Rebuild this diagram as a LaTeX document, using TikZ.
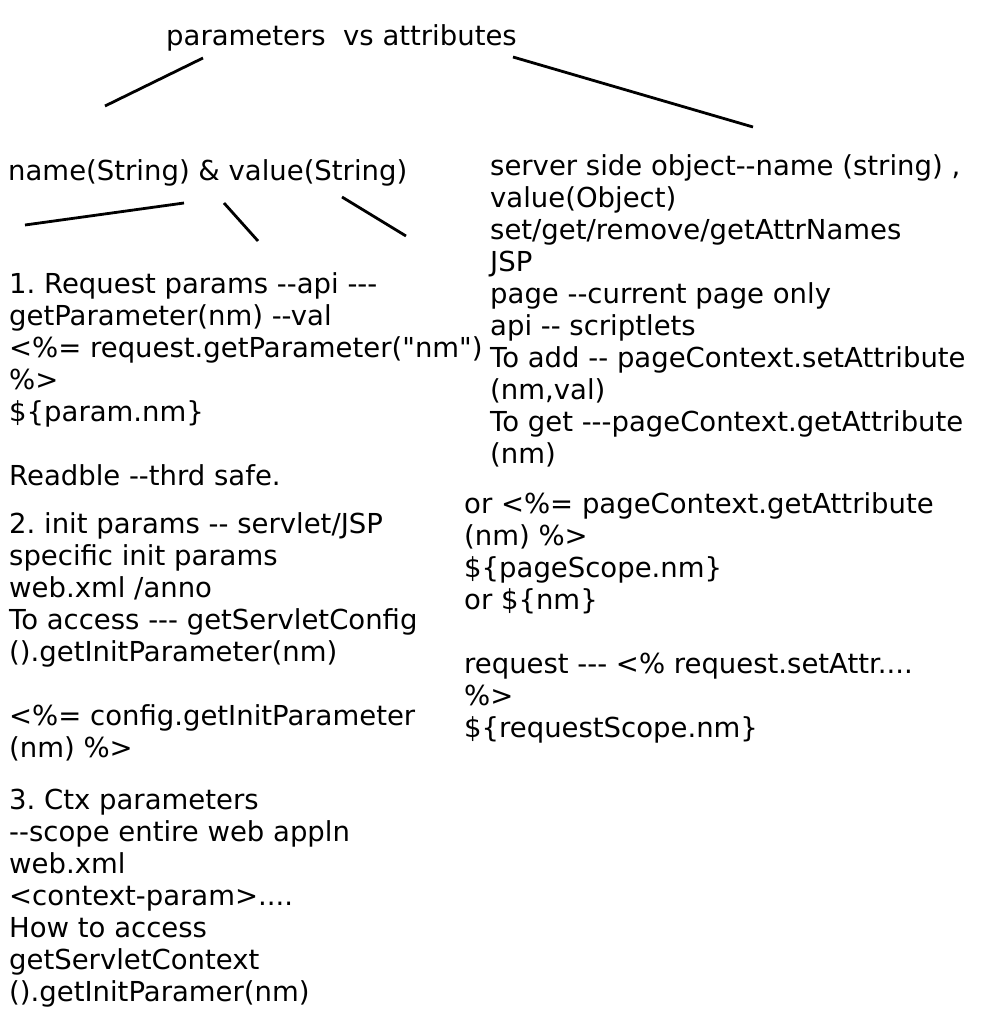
\documentclass[tikz,border=0pt]{standalone}
\usepackage{fontspec}
\setmainfont{DejaVu Sans}[Ligatures=TeXOff]
\usepackage{tikz}
\usetikzlibrary{positioning}
\frenchspacing
\tikzset{
    noteblock/.style={inner sep=0pt, anchor=base west, align=left, font=\fontsize{27.5}{32}\selectfont},
    link/.style={line width=2.8pt, black},
}

\begin{document}
\begin{tikzpicture}[x=1pt,y=-1pt]
\useasboundingbox (0,0) rectangle (993,1031);

% (multi-line notes sit on the baseline of their last line)
\node[noteblock] (title) at (166,45) {parameters\ \ vs attributes};
\node[noteblock] (namevalue) at (8,180) {name(String) \& value(String)};

\node[noteblock] (reqparams) at (9,485) {1. Request params --api ---\\
getParameter(nm) --val\\
<\%= request.getParameter("nm")\\
\%>\\
\$\{param.nm\}\\[32pt]
Readble --thrd safe.};
\node[noteblock] (initparams) at (9,757) {2. init params -- servlet/JSP\\
specific init params\\
web.xml /anno\\
To access --- getServletConfig\\
().getInitParameter(nm)\\[32pt]
<\%= config.getInitParameter\\
(nm) \%>};
\node[noteblock] (ctxparams) at (9,1001) {3. Ctx parameters\\
--scope entire web appln\\
web.xml\\
<context-param>....\\
How to access\\
getServletContext\\
().getInitParamer(nm)};

\node[noteblock] (attrpage) at (490,463) {server side object--name (string) ,\\
value(Object)\\
set/get/remove/getAttrNames\\
JSP\\
page --current page only\\
api -- scriptlets\\
To add -- pageContext.setAttribute\\
(nm,val)\\
To get ---pageContext.getAttribute\\
(nm)};
\node[noteblock] (attrreq) at (464,737) {or <\%= pageContext.getAttribute\\
(nm) \%>\\
\$\{pageScope.nm\}\\
or \$\{nm\}\\[32pt]
request --- <\% request.setAttr....\\
\%>\\
\$\{requestScope.nm\}};

% links between the notes
\coordinate (tleft) at (203,58);
\coordinate (tright) at (513,57);
\coordinate (paramtop) at (105,106);
\coordinate (attrtop) at (753,127);
\draw[link] (tleft) -- (paramtop);
\draw[link] (tright) -- (attrtop);

\coordinate (nva) at (184,203);
\coordinate (nvb) at (224,203);
\coordinate (nvc) at (342,197);
\coordinate (reqend) at (25,225);
\coordinate (initend) at (258,241);
\coordinate (ctxend) at (406,236);
\draw[link] (nva) -- (reqend);
\draw[link] (nvb) -- (initend);
\draw[link] (nvc) -- (ctxend);
\end{tikzpicture}
\end{document}
